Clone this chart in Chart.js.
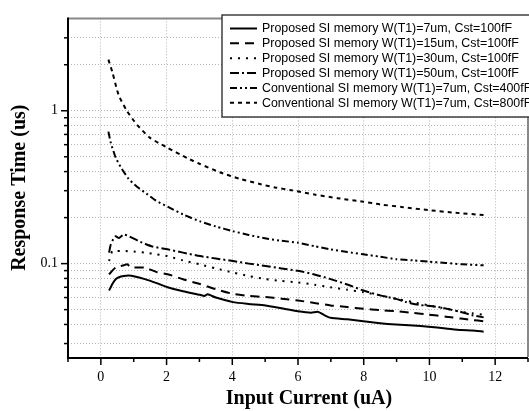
<!DOCTYPE html>
<html>
<head>
<meta charset="utf-8">
<script src="https://cdn.jsdelivr.net/npm/chart.js@4/dist/chart.umd.min.js"></script>
<style>
  html, body { margin: 0; padding: 0; background: #fff; overflow: hidden; }
  #wrap { width: 529px; height: 411px; overflow: hidden; }
  canvas { display: block; }
</style>
</head>
<body>
<div id="wrap"><canvas id="c" width="540" height="411"></canvas></div>
<script>
// ---- Data ----
const seriesLabels = [
  'Proposed SI memory W(T1)=7um, Cst=100fF',
  'Proposed SI memory W(T1)=15um, Cst=100fF',
  'Proposed SI memory W(T1)=30um, Cst=100fF',
  'Proposed SI memory W(T1)=50um, Cst=100fF',
  'Conventional SI memory W(T1)=7um, Cst=400fF',
  'Conventional SI memory W(T1)=7um, Cst=800fF'
];

const x7um = [0.25, 0.3, 0.35, 0.45, 0.55, 0.7, 0.85, 1.0, 1.34, 1.7, 2.03, 2.5, 3.02, 3.15, 3.25, 3.5, 4.02, 4.5, 5.01, 5.5, 6.0, 6.4, 6.6, 6.8, 6.99, 7.5, 7.99, 8.5, 8.98, 9.5, 9.97, 10.5, 10.96, 11.3, 11.65];
const y7um = [0.0667, 0.070, 0.0735, 0.079, 0.0815, 0.083, 0.0835, 0.0828, 0.0792, 0.0745, 0.070, 0.066, 0.0625, 0.0615, 0.063, 0.060, 0.056, 0.0545, 0.0533, 0.051, 0.0488, 0.0478, 0.0485, 0.046, 0.0442, 0.0432, 0.042, 0.0408, 0.040, 0.0394, 0.0387, 0.0377, 0.0368, 0.0365, 0.0359];

const x15um = [0.25, 0.35, 0.45, 0.55, 0.7, 0.8, 0.9, 1.0, 1.34, 1.7, 2.03, 2.5, 3.02, 3.5, 4.02, 4.5, 5.01, 5.5, 6.0, 6.5, 6.99, 7.5, 7.99, 8.5, 8.98, 9.5, 9.97, 10.5, 10.96, 11.3, 11.65];
const y15um = [0.085, 0.090, 0.0942, 0.096, 0.0975, 0.099, 0.095, 0.0942, 0.0942, 0.088, 0.0853, 0.079, 0.0735, 0.068, 0.0634, 0.0615, 0.0604, 0.059, 0.0574, 0.0553, 0.0533, 0.052, 0.0507, 0.0497, 0.0488, 0.0476, 0.0464, 0.045, 0.0437, 0.0428, 0.042];

const x30um = [0.25, 0.3, 0.35, 0.5, 0.64, 1.0, 1.34, 1.7, 2.03, 2.5, 3.02, 3.5, 4.02, 4.5, 5.01, 5.5, 6.0, 6.5, 6.99, 7.5, 7.99, 8.5, 8.98, 9.5, 9.97, 10.5, 10.96, 11.3, 11.65];
const y30um = [0.104, 0.113, 0.121, 0.121, 0.121, 0.12, 0.118, 0.115, 0.112, 0.105, 0.0989, 0.093, 0.0875, 0.083, 0.0792, 0.077, 0.0754, 0.0728, 0.070, 0.0675, 0.065, 0.062, 0.0588, 0.056, 0.0533, 0.0508, 0.0483, 0.0473, 0.0464];

const x50um = [0.25, 0.3, 0.38, 0.45, 0.55, 0.69, 0.8, 0.94, 1.2, 1.54, 2.03, 2.5, 3.02, 3.5, 4.02, 4.5, 5.01, 5.5, 6.0, 6.5, 6.99, 7.5, 7.99, 8.5, 8.98, 9.3, 9.67, 10.27, 10.96, 11.3, 11.65];
const y50um = [0.118, 0.133, 0.145, 0.151, 0.147, 0.155, 0.153, 0.148, 0.139, 0.130, 0.124, 0.118, 0.112, 0.108, 0.104, 0.100, 0.0966, 0.093, 0.0897, 0.085, 0.0792, 0.073, 0.0667, 0.062, 0.0588, 0.056, 0.0538, 0.052, 0.0483, 0.046, 0.0445];

const x400fF = [0.23, 0.3, 0.45, 0.6, 0.84, 1.1, 1.39, 1.68, 2.03, 2.5, 3.02, 3.5, 4.02, 4.5, 5.11, 5.5, 6.0, 6.5, 6.99, 7.5, 7.99, 8.5, 8.98, 9.5, 9.97, 10.5, 11.0, 11.65];
const y400fF = [0.73, 0.62, 0.495, 0.43, 0.36, 0.318, 0.287, 0.258, 0.236, 0.21, 0.189, 0.175, 0.163, 0.154, 0.145, 0.141, 0.137, 0.13, 0.124, 0.119, 0.115, 0.111, 0.107, 0.105, 0.103, 0.101, 0.099, 0.0975];

const x800fF = [0.23, 0.35, 0.54, 0.79, 1.1, 1.49, 1.98, 2.63, 3.0, 3.62, 4.2, 4.81, 5.3, 5.8, 6.5, 7.2, 7.99, 8.5, 9.2, 9.97, 10.8, 11.65];
const y800fF = [2.16, 1.79, 1.27, 1.0, 0.81, 0.667, 0.58, 0.49, 0.45, 0.396, 0.36, 0.333, 0.315, 0.302, 0.283, 0.268, 0.254, 0.244, 0.234, 0.224, 0.215, 0.208];

const xTickValues = [-1, 0, 1, 2, 3, 4, 5, 6, 7, 8, 9, 10, 11, 12, 13];
const xTickLabels = ['', '0', '', '2', '', '4', '', '6', '', '8', '', '10', '', '12', ''];
const yTickValues = [0.03, 0.04, 0.05, 0.06, 0.07, 0.08, 0.09, 0.1, 0.2, 0.3, 0.4, 0.5, 0.6, 0.7, 0.8, 0.9, 1, 2, 3];
const yTickLabels = ['', '', '', '', '', '', '', '0.1', '', '', '', '', '', '', '', '', '1', '', ''];

const xTitle = 'Input Current (uA)';
const yTitle = 'Response Time (us)';

// ---- Styles ----
const dashes = [[], [9, 6], [2, 6], [9, 3, 2, 3], [7, 3, 2, 3, 2, 3], [4, 4]];
const xs = [x7um, x15um, x30um, x50um, x400fF, x800fF];
const ys = [y7um, y15um, y30um, y50um, y400fF, y800fF];

const datasets = seriesLabels.map((lab, i) => ({
  label: lab,
  data: xs[i].map((x, k) => ({ x: x, y: ys[i][k] })),
  borderColor: '#000',
  borderWidth: 2,
  borderDash: dashes[i],
  pointRadius: 0,
  fill: false,
  tension: 0.2
}));

const serif = '"Liberation Serif", "Times New Roman", serif';
const sans = '"Liberation Sans", Arial, sans-serif';

const decorPlugin = {
  id: 'decor',
  afterDraw(chart) {
    const ctx = chart.ctx;
    const a = chart.chartArea;
    const xs = chart.scales.x, yS = chart.scales.y;
    ctx.save();
    ctx.setLineDash([]);
    // top frame
    ctx.strokeStyle = '#888';
    ctx.lineWidth = 2;
    ctx.beginPath(); ctx.moveTo(a.left, a.top); ctx.lineTo(a.right, a.top); ctx.stroke();
    ctx.beginPath(); ctx.moveTo(a.right, a.top); ctx.lineTo(a.right, a.bottom); ctx.stroke();
    // axes
    ctx.strokeStyle = '#000';
    ctx.lineWidth = 2;
    ctx.beginPath(); ctx.moveTo(a.left, a.top - 1); ctx.lineTo(a.left, a.bottom + 1); ctx.lineTo(a.right, a.bottom + 1); ctx.stroke();
    // tick marks
    ctx.lineWidth = 1.5;
    xTickValues.forEach((v) => {
      const px = xs.getPixelForValue(v);
      const len = (v % 2 === 0) ? 7 : 4;
      ctx.beginPath(); ctx.moveTo(px, a.bottom + 1); ctx.lineTo(px, a.bottom + 1 + len); ctx.stroke();
    });
    yTickValues.forEach((v, i) => {
      const py = yS.getPixelForValue(v);
      const len = yTickLabels[i] ? 7 : 4;
      ctx.beginPath(); ctx.moveTo(a.left, py); ctx.lineTo(a.left - len, py); ctx.stroke();
    });
    // axis titles
    ctx.fillStyle = '#000';
    ctx.font = 'bold 20px ' + serif;
    ctx.textAlign = 'center';
    ctx.textBaseline = 'middle';
    ctx.fillText(xTitle, 309, 399);
    ctx.save();
    ctx.translate(20, (a.top + a.bottom) / 2);
    ctx.rotate(-Math.PI / 2);
    ctx.fillText(yTitle, 0, 0);
    ctx.restore();
    // legend
    const lx = 222, ly = 15, lw = 313, lh = 102;
    ctx.fillStyle = '#fff';
    ctx.fillRect(lx, ly, lw, lh);
    ctx.strokeStyle = '#222';
    ctx.lineWidth = 1.3;
    ctx.strokeRect(lx, ly, lw, lh);
    ctx.font = '12.4px ' + sans;
    ctx.textAlign = 'left';
    ctx.textBaseline = 'middle';
    chart.data.datasets.forEach((ds, i) => {
      const y = 28.5 + i * 14.85;
      ctx.strokeStyle = '#000';
      ctx.lineWidth = 2;
      ctx.setLineDash(ds.borderDash || []);
      ctx.beginPath(); ctx.moveTo(230, y); ctx.lineTo(257, y); ctx.stroke();
      ctx.setLineDash([]);
      ctx.fillStyle = '#000';
      ctx.fillText(ds.label, 262, y + 0.5);
    });
    ctx.restore();
  }
};

new Chart(document.getElementById('c'), {
  type: 'line',
  data: { datasets: datasets },
  options: {
    responsive: false,
    animation: false,
    devicePixelRatio: 1,
    layout: { padding: { top: 12, right: 1.5, left: 0, bottom: 0 } },
    plugins: { legend: { display: false }, tooltip: { enabled: false } },
    scales: {
      x: {
        type: 'linear',
        min: -1, max: 13,
        afterBuildTicks: (s) => { s.ticks = xTickValues.map(v => ({ value: v })); },
        afterFit: (s) => { s.height = 54; },
        ticks: {
          autoSkip: false,
          maxRotation: 0,
          padding: 12,
          color: '#000',
          font: { family: serif, size: 14 },
          callback: (v) => { const i = xTickValues.indexOf(v); return i >= 0 ? xTickLabels[i] : ''; }
        },
        grid: {
          drawTicks: false,
          lineWidth: 1,
          color: (c) => (c.tick && xTickLabels[xTickValues.indexOf(c.tick.value)]) ? '#b5b5b5' : 'rgba(0,0,0,0)'
        },
        border: { display: false, dash: [1, 2] }
      },
      y: {
        type: 'logarithmic',
        min: 0.0245, max: 4.02,
        afterBuildTicks: (s) => { s.ticks = yTickValues.map(v => ({ value: v })); },
        afterFit: (s) => { s.width = 68; },
        ticks: {
          autoSkip: false,
          padding: 10,
          color: '#000',
          font: { family: serif, size: 14 },
          callback: (v) => { const i = yTickValues.indexOf(v); return i >= 0 ? yTickLabels[i] : ''; }
        },
        grid: { drawTicks: false, lineWidth: 1, color: '#b5b5b5' },
        border: { display: false, dash: [1, 2] }
      }
    }
  },
  plugins: [decorPlugin]
});
</script>
</body>
</html>
